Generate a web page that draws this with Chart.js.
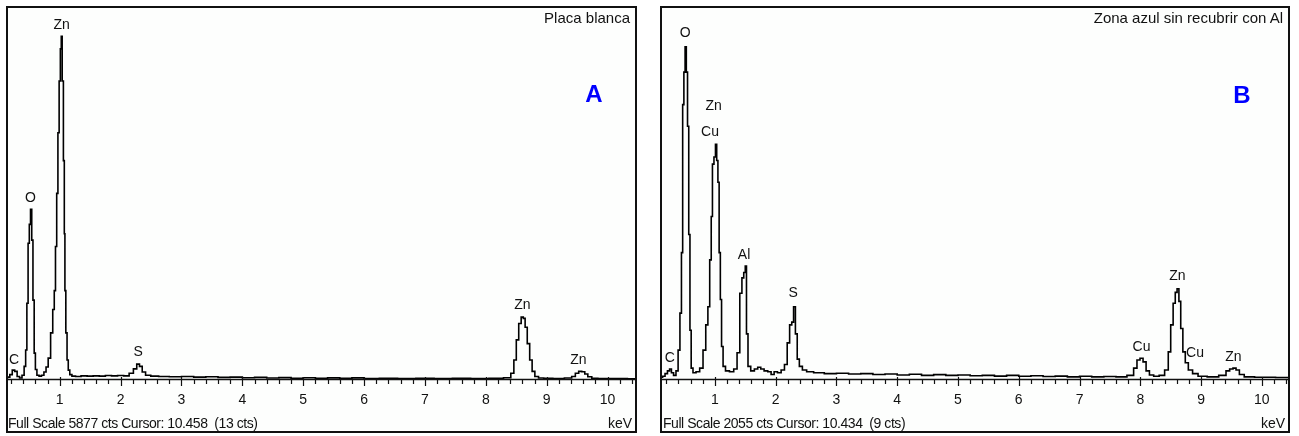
<!DOCTYPE html>
<html>
<head>
<meta charset="utf-8">
<script src="https://cdn.jsdelivr.net/npm/chart.js@4.4.1/dist/chart.umd.min.js"></script>
<style>
  body { margin: 0; background: #fff; font-family: "Liberation Sans", Arial, sans-serif; }
  .panel { position: absolute; top: 6px; height: 427px; border: 2px solid #111; box-sizing: border-box; background: #fdfefd; }
  .panel canvas { position: absolute; left: 0; top: 0; }
  .title { position: absolute; top: 2px; right: 5px; font-size: 15px; line-height: 16px; color: #111; }
  .letter { position: absolute; width: 30px; text-align: center; font-weight: bold; font-size: 24px; line-height: 28px; color: #0000ff; }
  .footer { position: absolute; top: 407px; font-size: 14px; line-height: 16px; letter-spacing: -0.45px; color: #111; white-space: pre; }
  .unit { position: absolute; top: 407px; right: 3px; font-size: 14px; line-height: 16px; color: #111; }
</style>
</head>
<body>
<div class="panel" id="pA" style="left:6px;width:631px;">
  <canvas id="chartA" width="627" height="423"></canvas>
  <div class="title">Placa blanca</div>
  <div class="letter" style="left:571px;top:72px;">A</div>
  <div class="footer" style="left:0px;">Full Scale 5877 cts Cursor: 10.458  (13 cts)</div>
  <div class="unit">keV</div>
</div>
<div class="panel" id="pB" style="left:660px;width:630px;">
  <canvas id="chartB" width="626" height="423"></canvas>
  <div class="title">Zona azul sin recubrir con Al</div>
  <div class="letter" style="left:565px;top:73px;">B</div>
  <div class="footer" style="left:1px;">Full Scale 2055 cts Cursor: 10.434  (9 cts)</div>
  <div class="unit">keV</div>
</div>
<script>
// tick labels on the keV axis
const majorTicks = [1, 2, 3, 4, 5, 6, 7, 8, 9, 10];

// spectrum A: "Placa blanca"
const energyA = [0.12, 0.16, 0.20, 0.24, 0.28, 0.32, 0.36, 0.40, 0.43, 0.45, 0.47, 0.49, 0.51, 0.53, 0.55, 0.57, 0.59, 0.61, 0.64, 0.68,
  0.72, 0.76, 0.79, 0.83, 0.87, 0.90, 0.92, 0.94, 0.96, 0.98, 1.00, 1.02, 1.03, 1.05, 1.07, 1.08, 1.09, 1.11, 1.13, 1.15,
  1.18, 1.22, 1.30, 1.40, 1.50, 1.60, 1.70, 1.80, 1.90, 2.00, 2.10, 2.18, 2.24, 2.29, 2.33, 2.38, 2.44, 2.55, 2.70, 2.90,
  3.10, 3.30, 3.50, 3.70, 3.90, 4.10, 4.30, 4.50, 4.70, 4.90, 5.10, 5.30, 5.50, 5.70, 5.90, 6.10, 6.40, 6.70, 7.00, 7.30,
  7.60, 7.90, 8.20, 8.38, 8.44, 8.48, 8.52, 8.56, 8.60, 8.63, 8.66, 8.70, 8.74, 8.78, 8.83, 8.90, 9.00, 9.20, 9.38, 9.44,
  9.50, 9.55, 9.60, 9.65, 9.70, 9.78, 9.90, 10.20, 10.45];
const countsA = [15, 30, 70, 140, 120, 40, 15, 60, 200, 460, 1200, 2150, 2450, 2690, 2200, 1250, 410, 150, 60, 45,
  60, 110, 190, 330, 730, 1100, 1400, 2100, 2940, 3900, 4720, 5230, 5430, 4720, 3460, 2300, 1400, 730, 300, 140,
  70, 45, 40, 50, 45, 50, 45, 55, 50, 55, 50, 90, 160, 235, 200, 110, 60, 45, 40, 35,
  40, 30, 35, 25, 30, 20, 25, 15, 22, 12, 20, 12, 18, 10, 18, 8, 10, 8, 10, 8,
  10, 8, 10, 20, 90, 300, 620, 880, 980, 960, 820, 560, 300, 120, 40, 15, 10, 8, 15, 40,
  90, 120, 115, 80, 35, 12, 8, 6, 5];
const labelsA = [
  { t: "C", e: 0.25, c: 300 },
  { t: "O", e: 0.52, c: 2870 },
  { t: "Zn", e: 1.03, c: 5610 },
  { t: "S", e: 2.29, c: 430 },
  { t: "Zn", e: 8.60, c: 1170 },
  { t: "Zn", e: 9.52, c: 300 }
];

// spectrum B: "Zona azul sin recubrir con Al"
const energyB = [0.12, 0.16, 0.20, 0.24, 0.27, 0.30, 0.34, 0.38, 0.41, 0.44, 0.46, 0.48, 0.50, 0.52, 0.54, 0.56, 0.58, 0.60, 0.62, 0.66,
  0.72, 0.78, 0.83, 0.87, 0.90, 0.93, 0.95, 0.97, 1.00, 1.02, 1.04, 1.06, 1.08, 1.10, 1.12, 1.15, 1.20, 1.28, 1.34, 1.39,
  1.43, 1.46, 1.49, 1.51, 1.53, 1.56, 1.62, 1.68, 1.73, 1.78, 1.84, 1.90, 1.95, 2.00, 2.06, 2.12, 2.17, 2.21, 2.25, 2.28,
  2.31, 2.34, 2.37, 2.41, 2.47, 2.55, 2.70, 2.90, 3.10, 3.30, 3.50, 3.70, 3.90, 4.10, 4.30, 4.50, 4.70, 4.90, 5.10, 5.30,
  5.50, 5.70, 5.90, 6.10, 6.30, 6.50, 6.70, 6.90, 7.10, 7.30, 7.50, 7.70, 7.86, 7.92, 7.97, 8.02, 8.07, 8.12, 8.18, 8.26,
  8.36, 8.44, 8.48, 8.52, 8.56, 8.59, 8.62, 8.65, 8.68, 8.72, 8.76, 8.82, 8.90, 9.00, 9.20, 9.38, 9.44, 9.50, 9.55, 9.60,
  9.66, 9.76, 10.00, 10.45];
const countsB = [10, 15, 30, 45, 55, 35, 20, 45, 160, 365, 700, 1520, 1700, 1840, 1700, 1400, 800, 270, 60, 35,
  40, 60, 160, 300, 400, 660, 900, 1190, 1230, 1300, 1210, 1090, 700, 440, 180, 70, 45, 40, 55, 145,
  475, 560, 590, 625, 250, 70, 45, 55, 65, 55, 45, 40, 25, 40, 35, 50, 80, 200, 300, 315,
  400, 250, 110, 70, 50, 40, 35, 30, 32, 28, 30, 25, 28, 22, 26, 20, 24, 20, 22, 18,
  20, 16, 20, 15, 18, 14, 16, 12, 15, 12, 14, 12, 20, 60, 105, 115, 95, 45, 22, 15,
  20, 50, 150, 300, 420, 480, 500, 430, 280, 150, 90, 50, 30, 15, 12, 20, 45, 55, 60, 50,
  25, 12, 10, 8];
const labelsB = [
  { t: "C", e: 0.26, c: 116 },
  { t: "O", e: 0.51, c: 1917 },
  { t: "Zn", e: 0.98, c: 1512 },
  { t: "Cu", e: 0.92, c: 1368 },
  { t: "Al", e: 1.48, c: 687 },
  { t: "S", e: 2.29, c: 476 },
  { t: "Cu", e: 8.02, c: 177 },
  { t: "Zn", e: 8.61, c: 571 },
  { t: "Cu", e: 8.90, c: 144 },
  { t: "Zn", e: 9.53, c: 122 }
];

// axis line with major/minor tick marks, plus element labels
const spectrumDecor = {
  id: "spectrumDecor",
  afterDatasetsDraw(chart, args, opts) {
    const { ctx, chartArea } = chart;
    const xs = chart.scales.x, ys = chart.scales.y;
    const base = chartArea.bottom;
    ctx.save();
    ctx.strokeStyle = "#111";
    ctx.lineWidth = 1.5;
    ctx.beginPath();
    ctx.moveTo(chartArea.left, base + 0.5);
    ctx.lineTo(chartArea.right, base + 0.5);
    ctx.stroke();
    ctx.lineWidth = 1.2;
    for (let k = Math.ceil(xs.min * 5); k <= Math.floor(xs.max * 5); k++) {
      const px = Math.round(xs.getPixelForValue(k / 5)) + 0.5;
      const major = k % 5 === 0;
      ctx.beginPath();
      ctx.moveTo(px, base - (major ? 2 : 0));
      ctx.lineTo(px, base + (major ? 7 : 5));
      ctx.stroke();
    }
    ctx.fillStyle = "#111";
    ctx.font = "14px 'Liberation Sans', Arial, sans-serif";
    ctx.textAlign = "center";
    ctx.textBaseline = "middle";
    opts.labels.forEach(l => {
      ctx.fillText(l.t, xs.getPixelForValue(l.e), ys.getPixelForValue(l.c));
    });
    ctx.restore();
  }
};

function drawSpectrum(canvasId, energy, counts, fullScale, xMin, xMax, labels) {
  const ctx = document.getElementById(canvasId).getContext("2d");
  return new Chart(ctx, {
    type: "line",
    data: {
      datasets: [
        {
          data: energy.map((e, i) => ({ x: e, y: counts[i] })),
          borderColor: "#000",
          borderWidth: 1.6,
          pointRadius: 0,
          stepped: "middle",
          fill: false,
        },
      ],
    },
    options: {
      responsive: false,
      animation: false,
      layout: { padding: 0 },
      plugins: {
        legend: { display: false },
        tooltip: { enabled: false },
        spectrumDecor: { labels: labels },
      },
      scales: {
        x: {
          type: "linear",
          min: xMin,
          max: xMax,
          grid: { display: false, drawTicks: false },
          border: { display: false },
          afterBuildTicks: (scale) => {
            scale.ticks = majorTicks.map(v => ({ value: v }));
          },
          afterFit: (scale) => { scale.height = 52; },
          ticks: {
            autoSkip: false,
            maxRotation: 0,
            padding: 13,
            color: "#111",
            font: { family: "'Liberation Sans', Arial, sans-serif", size: 14 },
          },
        },
        y: {
          display: false,
          min: 0,
          max: fullScale,
        },
      },
    },
    plugins: [spectrumDecor],
  });
}

drawSpectrum("chartA", energyA, countsA, 5877, 0.15, 10.45, labelsA);
drawSpectrum("chartB", energyB, countsB, 2055, 0.13, 10.43, labelsB);
</script>
</body>
</html>
